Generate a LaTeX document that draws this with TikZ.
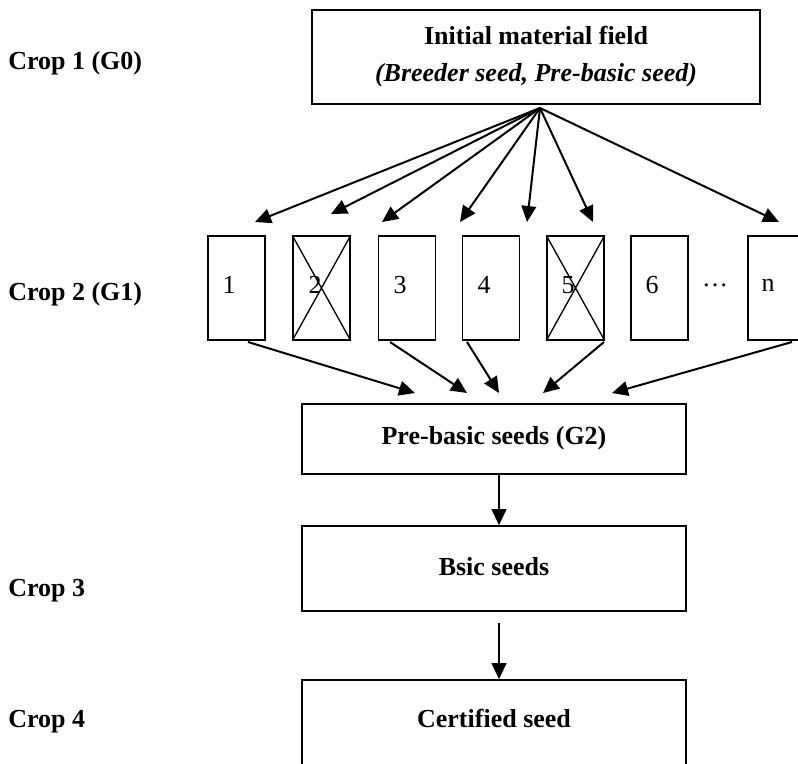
\documentclass[tikz,border=0pt]{standalone}
\usepackage{fontspec}
\setmainfont{Liberation Serif}
\usetikzlibrary{arrows.meta}
\begin{document}
\begin{tikzpicture}[x=0.75pt,y=-0.75pt,
  box/.style={draw, line width=1.2pt, inner sep=0pt},
  rowbox/.style={box, minimum width=42.75pt, minimum height=78pt},
  bigbox/.style={box, minimum width=288pt},
  txt/.style={font=\fontsize{19.5}{23}\selectfont\bfseries, inner sep=0pt},
  lbl/.style={txt, anchor=base west},
  num/.style={font=\fontsize{19.5}{23}\selectfont, inner sep=0pt},
  arr/.style={-{Triangle[length=12pt,width=11pt]}, line width=1.5pt},
  crossln/.style={line width=1pt}]
\useasboundingbox (0,0) rectangle (798,763);

% labels
\node[lbl] (c1) at (8,70) {Crop 1 (G0)};
\node[lbl] (c2) at (8,300) {Crop 2 (G1)};
\node[lbl] (c3) at (8,596) {Crop 3};
\node[lbl] (c4) at (8,727) {Crop 4};

% top box
\node[box, minimum width=336pt, minimum height=70.5pt, align=center,
      font=\fontsize{19.5}{27.75}\selectfont\bfseries] (init) at (536,57)
  {Initial material field\\\textit{(Breeder seed, Pre-basic seed)}};

% row of boxes
\node[rowbox] (b1) at (236.5,288) {};
\node[rowbox] (b2) at (321.5,288) {};
\node[rowbox] (b3) at (407,288) {};
\node[rowbox] (b4) at (491,288) {};
\node[rowbox] (b5) at (575.5,288) {};
\node[rowbox] (b6) at (659.5,288) {};
\node[rowbox] (bn) at (776.5,288) {};
\draw[crossln] (b2.north west) -- (b2.south east) (b2.north east) -- (b2.south west);
\draw[crossln] (b5.north west) -- (b5.south east) (b5.north east) -- (b5.south west);

\node[num] (n1) at (229,285) {1};
\node[num] (n2) at (315,285) {2};
\node[num] (n3) at (400,285) {3};
\node[num] (n4) at (484,285) {4};
\node[num] (n5) at (568,285) {5};
\node[num] (n6) at (652,285) {6};
\node[num] (dots) at (715,285) {\dots};
\node[num] (nn) at (768,285) {n};

% lower boxes
\node[bigbox, minimum height=52.5pt] (pb) at (494,439) {};
\node[txt] (pbt) at (494,438) {Pre-basic seeds (G2)};
\node[bigbox, minimum height=63.75pt] (bs) at (494,568.5) {};
\node[txt] (bst) at (494,567) {Bsic seeds};
\node[bigbox, minimum height=90pt] (cs) at (494,740) {};
\node[txt] (cst) at (494,718) {Certified seed};

% top arrows
\coordinate (src) at (540,108);
\coordinate (t1) at (255,222);
\coordinate (t2) at (331,214);
\coordinate (t3) at (382,222);
\coordinate (t4) at (460,222);
\coordinate (t5) at (527,222);
\coordinate (t6) at (593,222);
\coordinate (t7) at (779,222);
\foreach \t in {t1,t2,t3,t4,t5,t6,t7} \draw[arr] (src) -- (\t);

% bottom arrows
\coordinate (s1) at (248,342);
\coordinate (s3) at (390,342);
\coordinate (s4) at (467,342);
\coordinate (s5) at (604,342);
\coordinate (sn) at (792,342);
\coordinate (e1) at (415,393);
\coordinate (e3) at (467,393);
\coordinate (e4) at (499,393);
\coordinate (e5) at (543,393);
\coordinate (en) at (612,393);
\draw[arr] (s1) -- (e1);
\draw[arr] (s3) -- (e3);
\draw[arr] (s4) -- (e4);
\draw[arr] (s5) -- (e5);
\draw[arr] (sn) -- (en);

% vertical arrows
\draw[arr] (pb.south -| 499,0) -- (bs.north -| 499,0);
\draw[arr] (499,623) -- (cs.north -| 499,0);
\end{tikzpicture}
\end{document}
